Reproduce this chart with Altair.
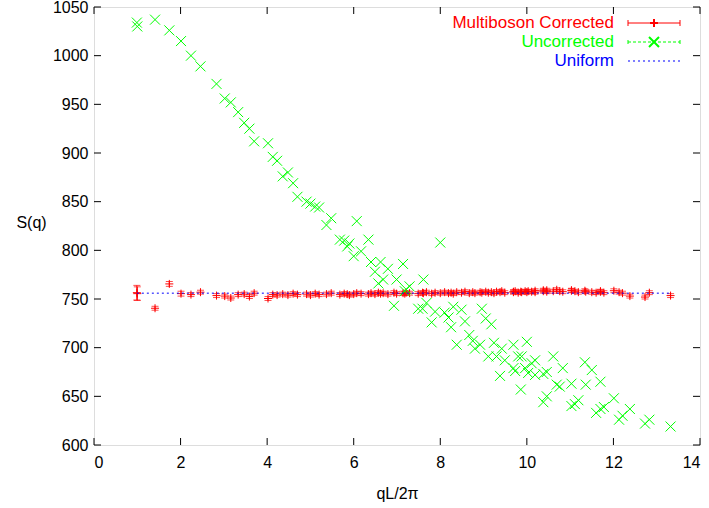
import altair as alt
import pandas as pd

# shared q values (qL/2pi)
q = [0.99, 1.00, 1.41, 1.74, 2.01, 2.24, 2.46, 2.83, 3.02, 3.16, 3.33, 3.47, 3.59, 3.70,
     4.02, 4.13, 4.23, 4.36, 4.48, 4.60, 4.70, 4.91, 5.00, 5.11, 5.20, 5.37, 5.48, 5.68,
     5.78, 5.85, 5.90, 6.00, 6.07, 6.17, 6.34, 6.40, 6.49, 6.57, 6.62, 6.68, 6.79, 6.93,
     6.99, 7.14, 7.18, 7.21, 7.29, 7.49, 7.59, 7.61, 7.68, 7.80, 7.88, 8.00, 8.10, 8.19,
     8.25, 8.30, 8.38, 8.49, 8.57, 8.67, 8.75, 8.80, 8.92, 8.96, 9.05, 9.11, 9.18, 9.24,
     9.30, 9.38, 9.42, 9.49, 9.69, 9.69, 9.73, 9.80, 9.86, 9.88, 9.96, 10.00, 10.03, 10.11,
     10.19, 10.19, 10.38, 10.38, 10.46, 10.46, 10.61, 10.69, 10.76, 10.83, 11.03, 11.03,
     11.11, 11.19, 11.34, 11.36, 11.50, 11.60, 11.70, 11.70, 11.78, 12.01, 12.13, 12.21,
     12.38, 12.73, 12.83, 13.32]

uncorrected = [1034, 1030, 1037, 1026, 1015, 1000, 989, 971, 956, 952, 942, 931, 925, 912,
               910, 896, 892, 876, 880, 869, 855, 850, 848, 845, 844, 826, 833, 811,
               810, 804, 807, 794, 830, 799, 811, 788, 778, 766, 788, 770, 781, 743,
               770, 786, 758, 760, 763, 740, 740, 770, 746, 726, 737, 808, 736, 731,
               721, 742, 703, 739, 727, 713, 707, 699, 703, 740, 730, 691, 724, 705,
               691, 671, 699, 687, 703, 679, 676, 691, 657, 691, 679, 706, 674, 684,
               687, 672, 673, 644, 675, 650, 691, 662, 660, 679, 663, 640,
               642, 646, 685, 662, 677, 633, 665, 637, 639, 648, 626, 630,
               637, 622, 626, 619]

corrected = [756.5, 755.5, 740.5, 765.5, 755.5, 754.5, 757, 753.5, 753, 751, 754.5, 755, 752.5, 756,
             750.5, 754.5, 754, 755, 754, 755.5, 754.5, 755, 754, 755.5, 754.5, 755, 756, 754.5,
             755.5, 755, 754, 755, 756, 755.5, 755, 756, 755, 756.5, 755.5, 756, 755, 756.5,
             755.5, 756, 755.5, 756.5, 756, 755.5, 756.5, 756, 757, 755.5, 756.5, 756, 757, 756,
             756.5, 755.5, 757, 756.5, 757.5, 756, 757, 756, 757, 756.5, 757.5, 756.5, 757, 756,
             757.5, 757, 758, 756.5, 757.5, 757, 758, 756.5, 757.5, 757, 758, 757, 758, 757.5,
             758.5, 757, 759, 758, 757.5, 759, 758, 759.5, 758, 757.5, 758.5, 759,
             758, 757, 758.5, 757.5, 757, 756.5, 757.5, 758, 756.5, 758.5, 757, 756,
             753, 752, 756.5, 753.5]

corrected_err = [7.5, 7.0, 2, 2.5, 2.5, 2, 2, 2, 2, 2, 2, 2, 2, 2,
                 2, 2, 2, 2, 2, 2, 2, 2, 2, 2, 2, 2, 2, 2,
                 2, 2, 2, 2, 2, 2, 2, 2, 2, 2, 2, 2, 2, 2,
                 2, 2, 2, 2, 2, 2, 2, 2, 2, 2, 2, 2, 2, 2,
                 2, 2, 2, 2, 2, 2, 2, 2, 2, 2, 2, 2, 2, 2,
                 2, 2, 2, 2, 2, 2, 2, 2, 2, 2, 2, 2, 2, 2,
                 2, 2, 2, 2, 2, 2, 2, 2, 2, 2, 2, 2,
                 2, 2, 2, 2, 2, 2, 2, 2, 2, 2, 2, 2,
                 2, 2, 2, 2]

uniform_level = 756

x_ticks = [0, 2, 4, 6, 8, 10, 12, 14]
y_ticks = [600, 650, 700, 750, 800, 850, 900, 950, 1000, 1050]

legend_labels = ["Multiboson Corrected", "Uncorrected", "Uniform"]
legend_colors = ["#ff0000", "#00ff00", "#0000ff"]

FONT = "Liberation Sans"
W, H = 606, 438

df = pd.DataFrame({
    "q": q,
    "corr": corrected,
    "lo": [c - e for c, e in zip(corrected, corrected_err)],
    "hi": [c + e for c, e in zip(corrected, corrected_err)],
    "unc": uncorrected,
})

xs = alt.Scale(domain=[0, 14], nice=False, zero=False)
ys = alt.Scale(domain=[600, 1050], nice=False, zero=False)

x_axis = alt.Axis(values=x_ticks, format="d", title="qL/2π", grid=False, domain=False, ticks=False,
                  labelFont=FONT, labelFontSize=16, labelColor="black", labelPadding=9,
                  titleFont=FONT, titleFontSize=16, titleFontWeight="normal", titleColor="black",
                  titleY=48, titleBaseline="middle")
y_axis = alt.Axis(values=y_ticks, format="d", title="S(q)", grid=False, domain=False, ticks=False,
                  labelFont=FONT, labelFontSize=16, labelColor="black", labelPadding=6,
                  titleFont=FONT, titleFontSize=16, titleFontWeight="normal", titleColor="black",
                  titleAngle=0, titleX=-63, titleY=215, titleAlign="center", titleBaseline="middle")

base = alt.Chart(df)

err = base.mark_rule(color="#ff0000", strokeWidth=1).encode(
    x=alt.X("q:Q", scale=xs, axis=x_axis),
    y=alt.Y("lo:Q", scale=ys, axis=y_axis),
    y2="hi:Q",
)
cap_lo = base.mark_tick(color="#ff0000", orient="horizontal", size=7, thickness=1).encode(
    x=alt.X("q:Q", scale=xs), y=alt.Y("lo:Q", scale=ys))
cap_hi = base.mark_tick(color="#ff0000", orient="horizontal", size=7, thickness=1).encode(
    x=alt.X("q:Q", scale=xs), y=alt.Y("hi:Q", scale=ys))
red_pts = base.mark_point(shape="M-1,0L1,0M0,-1L0,1", filled=False, color="#ff0000",
                          size=64, strokeWidth=1, opacity=1).encode(
    x=alt.X("q:Q", scale=xs), y=alt.Y("corr:Q", scale=ys))

green_pts = base.mark_point(shape="M-1,-1L1,1M-1,1L1,-1", filled=False, color="#00ff00",
                            size=100, strokeWidth=1, opacity=1).encode(
    x=alt.X("q:Q", scale=xs), y=alt.Y("unc:Q", scale=ys))

uni_df = pd.DataFrame({"q0": [min(q)], "q1": [max(q)], "s": [uniform_level]})
uniform = alt.Chart(uni_df).mark_rule(color="#0000ff", strokeWidth=1, strokeDash=[2, 3]).encode(
    x=alt.X("q0:Q", scale=xs), x2="q1:Q", y=alt.Y("s:Q", scale=ys))

# inward ticks on all four sides
xt = pd.DataFrame({"t": x_ticks})
yt = pd.DataFrame({"t": y_ticks})
tick_b = alt.Chart(xt).mark_rule(color="black").encode(
    x=alt.X("t:Q", scale=xs), y=alt.value(H), y2=alt.value(H - 7))
tick_t = alt.Chart(xt).mark_rule(color="black").encode(
    x=alt.X("t:Q", scale=xs), y=alt.value(0), y2=alt.value(7))
tick_l = alt.Chart(yt).mark_rule(color="black").encode(
    y=alt.Y("t:Q", scale=ys), x=alt.value(0), x2=alt.value(7))
tick_r = alt.Chart(yt).mark_rule(color="black").encode(
    y=alt.Y("t:Q", scale=ys), x=alt.value(W), x2=alt.value(W - 7))

# key (top right)
ky = [16, 35, 54]
key_parts = []
for i, (lab, col) in enumerate(zip(legend_labels, legend_colors)):
    one = pd.DataFrame({"label": [lab]})
    key_parts.append(alt.Chart(one).mark_text(align="right", baseline="middle", font=FONT,
                                              fontSize=17, color=col).encode(
        text="label:N", x=alt.value(520), y=alt.value(ky[i])))
    if i == 0:
        key_parts.append(alt.Chart(one).mark_rule(color=col).encode(
            x=alt.value(534), x2=alt.value(586), y=alt.value(ky[i])))
        for xv in (534, 586):
            key_parts.append(alt.Chart(one).mark_rule(color=col).encode(
                x=alt.value(xv), y=alt.value(ky[i] - 3), y2=alt.value(ky[i] + 3)))
        key_parts.append(alt.Chart(one).mark_point(shape="M-1,0L1,0M0,-1L0,1", filled=False,
                                                   color=col, size=64, opacity=1).encode(
            x=alt.value(560), y=alt.value(ky[i])))
    elif i == 1:
        key_parts.append(alt.Chart(one).mark_rule(color=col, strokeDash=[3, 2]).encode(
            x=alt.value(534), x2=alt.value(586), y=alt.value(ky[i])))
        for xv in (534, 586):
            key_parts.append(alt.Chart(one).mark_rule(color=col).encode(
                x=alt.value(xv), y=alt.value(ky[i] - 2), y2=alt.value(ky[i] + 2)))
        key_parts.append(alt.Chart(one).mark_point(shape="M-1,-1L1,1M-1,1L1,-1", filled=False,
                                                   color=col, size=100, opacity=1).encode(
            x=alt.value(560), y=alt.value(ky[i])))
    else:
        key_parts.append(alt.Chart(one).mark_rule(color=col, strokeDash=[2, 3]).encode(
            x=alt.value(534), x2=alt.value(586), y=alt.value(ky[i])))

chart = alt.layer(err, cap_lo, cap_hi, red_pts, green_pts, uniform,
                  tick_b, tick_t, tick_l, tick_r, *key_parts).properties(
    width=W, height=H,
    autosize=alt.AutoSizeParams(type="none"),
    padding={"left": 94, "top": 7, "right": 9, "bottom": 63},
).configure_view(stroke="black", strokeWidth=1).configure(background="white")

chart.save("out.html", embed_options={"renderer": "svg", "actions": False})
